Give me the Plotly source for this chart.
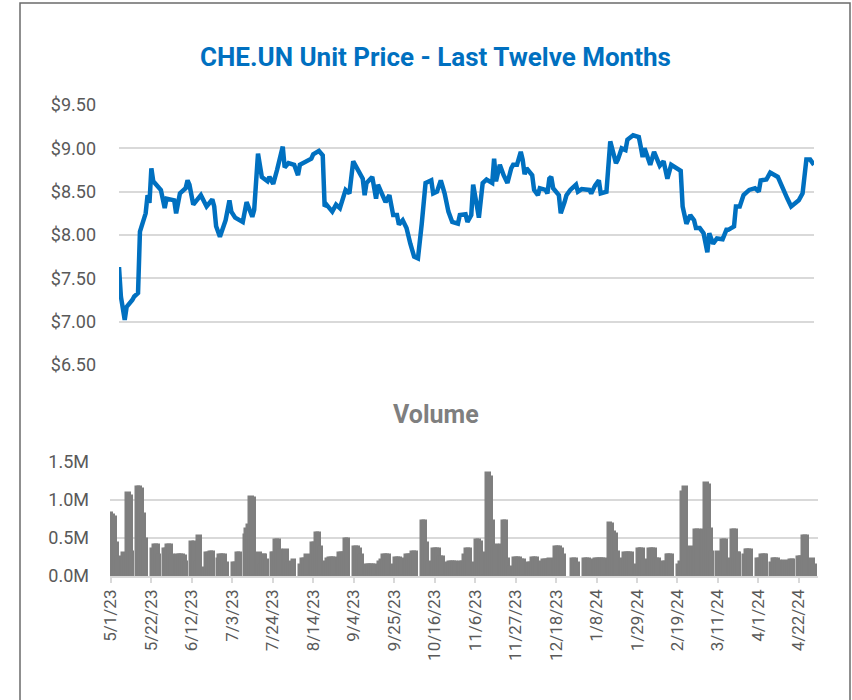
import pandas as pd
import plotly.graph_objects as go

# ---------------- data ----------------
price_dates = [
    "2023-05-01", "2023-05-02", "2023-05-04", "2023-05-05", "2023-05-08", "2023-05-09", "2023-05-11",
    "2023-05-12", "2023-05-15", "2023-05-16", "2023-05-17", "2023-05-18", "2023-05-19", "2023-05-23",
    "2023-05-25", "2023-05-26", "2023-05-30", "2023-05-31", "2023-06-02", "2023-06-05", "2023-06-06",
    "2023-06-07", "2023-06-09", "2023-06-13", "2023-06-16", "2023-06-19", "2023-06-20", "2023-06-21",
    "2023-06-23", "2023-06-26", "2023-06-28", "2023-06-29", "2023-07-01", "2023-07-05", "2023-07-07",
    "2023-07-10", "2023-07-11", "2023-07-13", "2023-07-15", "2023-07-18", "2023-07-19", "2023-07-21",
    "2023-07-23", "2023-07-26", "2023-07-27", "2023-07-29", "2023-08-01", "2023-08-03", "2023-08-04",
    "2023-08-08", "2023-08-10", "2023-08-11", "2023-08-14", "2023-08-16", "2023-08-17", "2023-08-18",
    "2023-08-21", "2023-08-23", "2023-08-25", "2023-08-28", "2023-08-30", "2023-09-01", "2023-09-03",
    "2023-09-06", "2023-09-07", "2023-09-08", "2023-09-11", "2023-09-13", "2023-09-14", "2023-09-16",
    "2023-09-18", "2023-09-20", "2023-09-22", "2023-09-24", "2023-09-25", "2023-09-27", "2023-09-29",
    "2023-10-01", "2023-10-03", "2023-10-05", "2023-10-06", "2023-10-07", "2023-10-09", "2023-10-12",
    "2023-10-13", "2023-10-15", "2023-10-17", "2023-10-19", "2023-10-21", "2023-10-23", "2023-10-26",
    "2023-10-27", "2023-10-30", "2023-10-31", "2023-11-02", "2023-11-03", "2023-11-05", "2023-11-06",
    "2023-11-08", "2023-11-10", "2023-11-13", "2023-11-14", "2023-11-15", "2023-11-17", "2023-11-19",
    "2023-11-21", "2023-11-23", "2023-11-24", "2023-11-26", "2023-11-28", "2023-11-29", "2023-11-30",
    "2023-12-01", "2023-12-04", "2023-12-05", "2023-12-07", "2023-12-08", "2023-12-11", "2023-12-12",
    "2023-12-13", "2023-12-14", "2023-12-15", "2023-12-18", "2023-12-19", "2023-12-21", "2023-12-22",
    "2023-12-24", "2023-12-27", "2023-12-28", "2023-12-30", "2024-01-03", "2024-01-04", "2024-01-06",
    "2024-01-08", "2024-01-09", "2024-01-12", "2024-01-14", "2024-01-16", "2024-01-17", "2024-01-18",
    "2024-01-20", "2024-01-22", "2024-01-23", "2024-01-26", "2024-01-29", "2024-01-30", "2024-01-31",
    "2024-02-01", "2024-02-03", "2024-02-04", "2024-02-06", "2024-02-09", "2024-02-11", "2024-02-13",
    "2024-02-15", "2024-02-17", "2024-02-20", "2024-02-21", "2024-02-23", "2024-02-25", "2024-02-27",
    "2024-02-28", "2024-03-01", "2024-03-03", "2024-03-05", "2024-03-06", "2024-03-08", "2024-03-10",
    "2024-03-13", "2024-03-15", "2024-03-16", "2024-03-19", "2024-03-20", "2024-03-22", "2024-03-24",
    "2024-03-27", "2024-03-30", "2024-04-01", "2024-04-02", "2024-04-05", "2024-04-07", "2024-04-11",
    "2024-04-14", "2024-04-16", "2024-04-18", "2024-04-20", "2024-04-22", "2024-04-24", "2024-04-26",
    "2024-04-28", "2024-04-30",
]
price_values = [
    7.63, 7.29, 7.02, 7.17, 7.25, 7.29, 7.33,
    8.04, 8.25, 8.46, 8.37, 8.77, 8.62, 8.52,
    8.31, 8.42, 8.40, 8.25, 8.48, 8.54, 8.63,
    8.58, 8.35, 8.46, 8.33, 8.41, 8.33, 8.10,
    7.98, 8.17, 8.40, 8.27, 8.20, 8.15, 8.38,
    8.21, 8.29, 8.94, 8.67, 8.62, 8.67, 8.59,
    8.75, 9.02, 8.78, 8.83, 8.81, 8.69, 8.81,
    8.85, 8.88, 8.93, 8.97, 8.92, 8.33, 8.35,
    8.27, 8.35, 8.31, 8.52, 8.48, 8.85, 8.77,
    8.65, 8.46, 8.60, 8.67, 8.42, 8.58, 8.48,
    8.38, 8.46, 8.23, 8.23, 8.12, 8.17, 8.08,
    7.90, 7.75, 7.73, 8.00, 8.13, 8.60, 8.63,
    8.48, 8.50, 8.63, 8.48, 8.27, 8.15, 8.13,
    8.23, 8.24, 8.15, 8.23, 8.58, 8.33, 8.20,
    8.60, 8.64, 8.60, 8.88, 8.62, 8.81, 8.69,
    8.60, 8.77, 8.81, 8.81, 8.96, 8.87, 8.70,
    8.77, 8.69, 8.52, 8.46, 8.54, 8.52, 8.48,
    8.65, 8.67, 8.54, 8.46, 8.25, 8.38, 8.46,
    8.52, 8.58, 8.50, 8.53, 8.52, 8.48, 8.57,
    8.63, 8.48, 8.50, 9.08, 8.94, 8.83, 8.87,
    9.00, 8.98, 9.10, 9.15, 9.13, 9.02, 8.90,
    9.00, 8.87, 8.81, 8.96, 8.80, 8.85, 8.65,
    8.81, 8.78, 8.74, 8.33, 8.13, 8.23, 8.17,
    8.08, 8.08, 8.02, 7.80, 8.02, 7.90, 7.96,
    7.95, 8.06, 8.06, 8.10, 8.33, 8.33, 8.46,
    8.52, 8.54, 8.50, 8.63, 8.64, 8.72, 8.67,
    8.50, 8.42, 8.33, 8.37, 8.40, 8.48, 8.87,
    8.87, 8.81,
]

# TSX market holidays in the period (no trading, no volume bar)
holidays = ["2023-05-22", "2023-07-03", "2023-08-07", "2023-09-04", "2023-10-09",
            "2023-12-25", "2023-12-26", "2024-01-01", "2024-02-19", "2024-03-29"]

# daily volume in millions of units, one value per trading day
volume_millions = [
    0.83, 0.80, 0.77, 0.43, 0.25,   # May 1
    0.30, 0.28, 1.09, 1.05, 0.32,   # May 8
    1.17, 1.17, 1.15, 0.82, 0.49,   # May 15
    0.36, 0.41, 0.41, 0.28,         # May 23
    0.36, 0.36, 0.41, 0.41, 0.28,   # May 29
    0.28, 0.27, 0.28, 0.26, 0.19,   # Jun 5
    0.45, 0.44, 0.45, 0.19, 0.52,   # Jun 12
    0.10, 0.30, 0.30, 0.32, 0.32,   # Jun 19
    0.23, 0.28, 0.28, 0.27, 0.17,   # Jun 26
    0.17, 0.17, 0.30, 0.30,         # Jul 4
    0.54, 0.62, 0.67, 1.04, 1.02,   # Jul 10
    0.30, 0.14, 0.28, 0.28, 0.21,   # Jul 17
    0.30, 0.30, 0.47, 0.47, 0.34,   # Jul 24
    0.34, 0.17, 0.17, 0.19, 0.21,   # Jul 31
    0.14, 0.23, 0.23, 0.28,         # Aug 8
    0.43, 0.43, 0.56, 0.56, 0.38,   # Aug 14
    0.19, 0.23, 0.24, 0.24, 0.24,   # Aug 21
    0.30, 0.30, 0.30, 0.49, 0.49,   # Aug 28
    0.38, 0.38, 0.36, 0.28,         # Sep 5
    0.14, 0.14, 0.14, 0.14, 0.14,   # Sep 11
    0.19, 0.21, 0.28, 0.28, 0.28,   # Sep 18
    0.14, 0.24, 0.24, 0.24, 0.23,   # Sep 25
    0.28, 0.28, 0.28, 0.32, 0.32,   # Oct 2
    0.73, 0.73, 0.43, 0.19,         # Oct 10
    0.36, 0.36, 0.36, 0.25, 0.25,   # Oct 16
    0.17, 0.19, 0.19, 0.19, 0.19,   # Oct 23
    0.19, 0.19, 0.28, 0.35, 0.35,   # Oct 30
    0.17, 0.47, 0.47, 0.45, 0.30,   # Nov 6
    1.36, 1.30, 0.73, 0.38, 0.41,   # Nov 13
    0.41, 0.72, 0.72, 0.23, 0.12,   # Nov 20
    0.24, 0.24, 0.24, 0.21, 0.21,   # Nov 27
    0.17, 0.17, 0.24, 0.24, 0.24,   # Dec 4
    0.19, 0.21, 0.21, 0.21, 0.23,   # Dec 11
    0.38, 0.38, 0.38, 0.36, 0.28,   # Dec 18
    0.23, 0.23, 0.17,               # Dec 27
    0.23, 0.23, 0.23, 0.21,         # Jan 2
    0.22, 0.22, 0.22, 0.23, 0.23,   # Jan 8
    0.70, 0.68, 0.58, 0.55, 0.32,   # Jan 15
    0.23, 0.30, 0.30, 0.30, 0.30,   # Jan 22
    0.14, 0.36, 0.36, 0.36, 0.21,   # Jan 29
    0.36, 0.36, 0.36, 0.23, 0.23,   # Feb 5
    0.19, 0.19, 0.28, 0.28, 0.28,   # Feb 12
    0.14, 0.19, 1.11, 1.17,         # Feb 20
    0.38, 0.34, 0.34, 0.61, 0.61,   # Feb 26
    0.61, 1.22, 1.20, 0.62, 0.32,   # Mar 4
    0.32, 0.30, 0.30, 0.47, 0.47,   # Mar 11
    0.23, 0.60, 0.60, 0.30, 0.30,   # Mar 18
    0.28, 0.34, 0.34, 0.34,         # Mar 25
    0.23, 0.23, 0.28, 0.28, 0.28,   # Apr 1
    0.17, 0.23, 0.23, 0.23, 0.20,   # Apr 8
    0.20, 0.19, 0.19, 0.21, 0.21,   # Apr 15
    0.25, 0.25, 0.25, 0.52, 0.52,   # Apr 22
    0.23, 0.14,                     # Apr 29
]

price_ticks = [6.5, 7.0, 7.5, 8.0, 8.5, 9.0, 9.5]
price_tick_labels = ["$6.50", "$7.00", "$7.50", "$8.00", "$8.50", "$9.00", "$9.50"]
volume_ticks = [0, 500000, 1000000, 1500000]
volume_tick_labels = ["0.0M", "0.5M", "1.0M", "1.5M"]

title_text = "CHE.UN Unit Price - Last Twelve Months"
volume_title = "Volume"

# ---------------- build ----------------
hol = set(pd.to_datetime(holidays))
trade_days = [d for d in pd.bdate_range("2023-05-01", "2024-04-30") if d not in hol]
assert len(trade_days) == len(volume_millions)
volume = [v * 1_000_000 for v in volume_millions]

W, H = 852, 700
def px(x):
    return x / W
def py(y):
    return 1 - y / H

BLUE = "#0070C0"
GRID = "#d9d9d9"
TXT = "#595959"
BAR = "#7f7f7f"
FONT = "Roboto"
DAY = 86400000

fig = go.Figure()
fig.add_trace(go.Scatter(
    x=pd.to_datetime(price_dates), y=price_values, mode="lines",
    line=dict(color=BLUE, width=4.5, shape="linear"),
    xaxis="x", yaxis="y", showlegend=False, hoverinfo="skip"))
fig.add_trace(go.Bar(
    x=trade_days, y=volume, width=DAY * 2.4,
    marker=dict(color=BAR, line=dict(color=BAR, width=1.5)),
    xaxis="x2", yaxis="y2", showlegend=False, hoverinfo="skip"))

fig.update_layout(
    template="none",
    width=W, height=H,
    margin=dict(l=0, r=0, t=0, b=0, pad=0, autoexpand=False),
    paper_bgcolor="white", plot_bgcolor="white",
    font=dict(family=FONT, color=TXT, size=16),
    bargap=0, barmode="overlay",
    xaxis=dict(domain=[px(119), px(814)], type="date",
               range=["2023-05-01", "2024-04-30"], automargin=False,
               showticklabels=False, showgrid=False, zeroline=False,
               showline=False, ticks="", anchor="y"),
    yaxis=dict(domain=[py(365), py(105)], range=[6.5, 9.5], automargin=False,
               tickvals=price_ticks, ticktext=price_tick_labels,
               showgrid=True, gridcolor=GRID, gridwidth=1.5,
               zeroline=False, showline=False, ticks="",
               ticklabelstandoff=22, anchor="x",
               tickfont=dict(family=FONT, size=18, color=TXT)),
    xaxis2=dict(domain=[px(110), px(818)], type="date", automargin=False,
                range=["2023-04-30 12:00", "2024-05-01 22:00"],
                tick0="2023-05-01", dtick=21 * DAY, tickformat="%-m/%-d/%y",
                tickangle=-90, showgrid=False, zeroline=False,
                showline=True, linecolor=GRID, linewidth=1.5,
                ticks="outside", ticklen=5, tickcolor=GRID, tickwidth=1.5,
                tickfont=dict(family=FONT, size=17, color=TXT), anchor="y2"),
    yaxis2=dict(domain=[py(576), py(462)], range=[0, 1500000], automargin=False,
                tickvals=volume_ticks, ticktext=volume_tick_labels,
                showgrid=True, gridcolor=GRID, gridwidth=1.5,
                zeroline=False, showline=False, ticks="",
                ticklabelstandoff=20, anchor="x2",
                tickfont=dict(family=FONT, size=18, color=TXT)),
    annotations=[
        dict(text="<b>" + title_text + "</b>", xref="paper", yref="paper",
             x=px(435), y=py(57), xanchor="center", yanchor="middle",
             showarrow=False, font=dict(family=FONT, size=26, color=BLUE)),
        dict(text="<b>" + volume_title + "</b>", xref="paper", yref="paper",
             x=px(436), y=py(414), xanchor="center", yanchor="middle",
             showarrow=False, font=dict(family=FONT, size=25, color=BAR)),
    ],
    shapes=[
        dict(type="rect", xref="paper", yref="paper",
             x0=px(20), x1=px(850), y0=-0.05, y1=py(3),
             line=dict(color="#6b6b6b", width=1.5), fillcolor="rgba(0,0,0,0)",
             layer="above"),
    ],
)

fig.write_html(
    "out.html",
    config={"displayModeBar": False},
    post_script="document.body.style.margin='0';document.body.style.padding='0';",
)
